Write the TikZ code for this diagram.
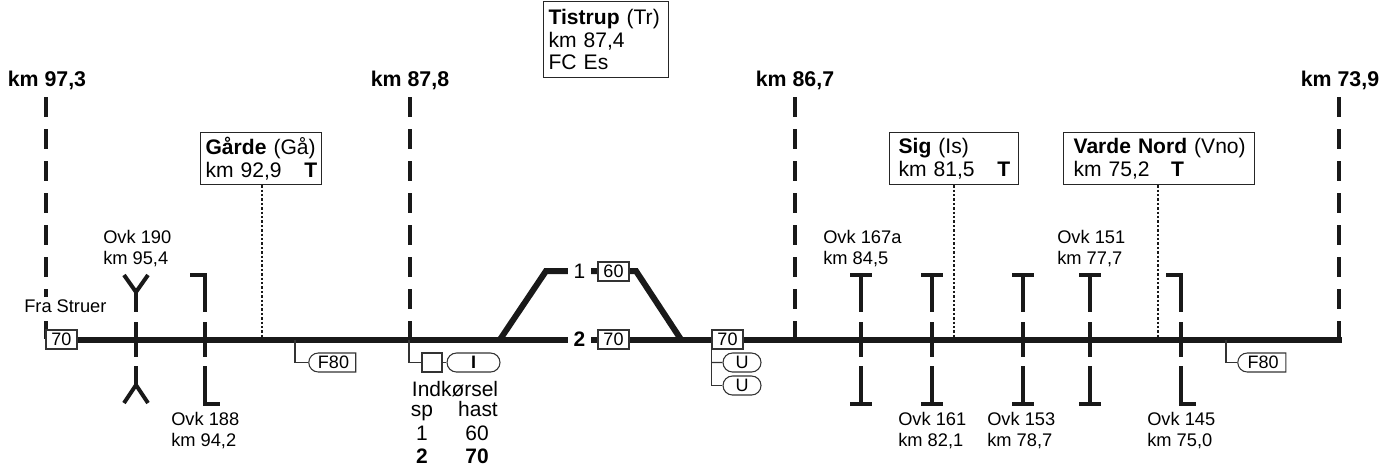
\documentclass[tikz,border=0pt]{standalone}
\usepackage{fontspec}
\setmainfont{Liberation Sans}
\usetikzlibrary{calc,shapes.misc}

\tikzset{
  track/.style={line width=4.5pt,black!90},
  kmline/.style={line width=3pt,black!90,dash pattern=on 15pt off 9pt},
  ovkline/.style={line width=3pt,black!90},
  thinline/.style={line width=0.8pt,black!80},
  stopline/.style={line width=2.1pt,black!90,dash pattern=on 1.8pt off 1.5pt},
  kmlabel/.style={font=\fontsize{16}{18}\selectfont\bfseries,inner sep=0pt},
  ovklabel/.style={font=\fontsize{13.7}{15.8}\selectfont,align=left,anchor=west,inner sep=0pt},
  stationbox/.style={draw=black!85,line width=0.9pt,fill=white,anchor=north west,align=left,
    font=\fontsize{15.8}{16.7}\selectfont,inner xsep=3.75pt,inner ysep=0pt},
  speedbox/.style={draw=black!80,line width=0.8pt,fill=white,inner sep=0pt,
    minimum width=23.25pt,minimum height=14.25pt,font=\fontsize{13.5}{14}\selectfont},
  pillbox/.style={draw=black!80,line width=0.8pt,fill=white,rounded rectangle,inner sep=0pt,
    minimum height=14.25pt,font=\fontsize{13.5}{14}\selectfont},
  tabletext/.style={font=\fontsize{15.7}{17}\selectfont,inner sep=0pt,anchor=base},
  boldtext/.style={font=\fontsize{15.7}{17}\selectfont\bfseries},
  spornumber/.style={inner sep=0pt,fill=white,minimum width=17.25pt,minimum height=14pt,
    font=\fontsize{15.7}{17}\selectfont},
}

\begin{document}
\begin{tikzpicture}[x=0.75pt,y=-0.75pt]
  \useasboundingbox (0,0) rectangle (1391,469);

  % section limits
  \coordinate (ktop1) at (46,97);
  \coordinate (kbot1) at (46,339);
  \coordinate (ktop2) at (410,97);
  \coordinate (kbot2) at (410,339);
  \coordinate (ktop3) at (795,97);
  \coordinate (kbot3) at (795,339);
  \coordinate (ktop4) at (1339,97);
  \coordinate (kbot4) at (1339,339);
  \draw[kmline] (ktop1) -- (kbot1);
  \draw[kmline] (ktop2) -- (kbot2);
  \draw[kmline] (ktop3) -- (kbot3);
  \draw[kmline] (ktop4) -- (kbot4);
  \node[kmlabel] (km1) at (47,80) {km 97,3};
  \node[kmlabel] (km2) at (410,80) {km 87,8};
  \node[kmlabel] (km3) at (795,80) {km 86,7};
  \node[kmlabel] (km4) at (1340,80) {km 73,9};
  \node[ovklabel,fill=white,inner ysep=2pt] (struer) at (24,306) {Fra Struer};

  % tracks
  \coordinate (trackend) at (1342,339.5);
  \coordinate (switchw) at (500,339.5);
  \coordinate (switche) at (681,339.5);
  \draw[track] (46,339.5) -- (trackend);
  \draw[track] (switchw) -- (546,271) -- (636,271) -- (switche);

  % level crossings
  \foreach \xpos in {861,932,1023,1090} {
    \draw[ovkline] (\xpos-11,275) -- (\xpos+11,275);
    \draw[ovkline] (\xpos,275) -- (\xpos,312);
    \draw[ovkline] (\xpos,322) -- (\xpos,357);
    \draw[ovkline] (\xpos,366) -- (\xpos,404);
    \draw[ovkline] (\xpos-11,404) -- (\xpos+11,404);
  }
  \foreach \xpos in {205,1181} {
    \draw[ovkline] (\xpos-15,275) -- (\xpos,275) -- (\xpos,312);
    \draw[ovkline] (\xpos,322) -- (\xpos,357);
    \draw[ovkline] (\xpos,366) -- (\xpos,404) -- (\xpos+15,404);
  }
  \draw[ovkline] (124,275) -- (136,292) -- (148,275);
  \draw[ovkline] (136,292) -- (136,312);
  \draw[ovkline] (136,322) -- (136,357);
  \draw[ovkline] (136,366) -- (136,385);
  \draw[ovkline] (124,403) -- (136,385) -- (148,403);

  \node[ovklabel] (ovk190) at (103,249) {Ovk 190\\km 95,4};
  \node[ovklabel] (ovk188) at (171,431) {Ovk 188\\km 94,2};
  \node[ovklabel] (ovk167) at (823,249) {Ovk 167a\\km 84,5};
  \node[ovklabel] (ovk161) at (898,431) {Ovk 161\\km 82,1};
  \node[ovklabel] (ovk153) at (987,431) {Ovk 153\\km 78,7};
  \node[ovklabel] (ovk151) at (1057,249) {Ovk 151\\km 77,7};
  \node[ovklabel] (ovk145) at (1147,431) {Ovk 145\\km 75,0};

  % stations
  \node[stationbox,text width=83.25pt,minimum height=39pt] (gaarde) at (200,132)
    {\mbox{\textbf{Gårde} (Gå)}\\\mbox{km 92,9\hspace{17pt}\textbf{T}}};
  \node[stationbox,text width=86.25pt,minimum height=57pt] (tistrup) at (543,1)
    {\mbox{\textbf{Tistrup} (Tr)}\\km 87,4\\FC Es};
  \node[stationbox,inner xsep=6.75pt,text width=83.25pt,minimum height=39pt] (sig) at (889,132)
    {\mbox{\textbf{Sig} (Is)}\\\mbox{km 81,5\hspace{17pt}\textbf{T}}};
  \node[stationbox,inner xsep=7.5pt,text width=128pt,minimum height=39pt] (varde) at (1063,132)
    {\mbox{\textbf{Varde Nord} (Vno)}\\\mbox{km 75,2\hspace{16pt}\textbf{T}}};
  \coordinate (gaardestop) at (262,339);
  \coordinate (sigstop) at (954,339);
  \coordinate (vardestop) at (1158,339);
  \draw[stopline] (gaarde.south -| gaardestop) -- (gaardestop);
  \draw[stopline] (sig.south -| sigstop) -- (sigstop);
  \draw[stopline] (varde.south -| vardestop) -- (vardestop);

  % signals and speed boards
  \node[speedbox] (speed70a) at (61.5,339.5) {70};
  \node[speedbox] (speed60) at (613.5,271.5) {60};
  \node[speedbox] (speed70b) at (613.5,339.5) {70};
  \node[speedbox] (speed70c) at (727.5,339.5) {70};
  \node[spornumber] (spor1) at (579.5,271) {1};
  \node[spornumber,font=\fontsize{15.7}{17}\selectfont\bfseries] (spor2) at (579.5,339.5) {2};

  \node[pillbox,rounded rectangle east arc=none,minimum width=35.25pt] (f80a) at (333.5,362.5) {F80};
  \node[pillbox,rounded rectangle east arc=none,minimum width=36pt] (f80b) at (1263,362.5) {F80};
  \coordinate (f80atap) at (295,339.5);
  \coordinate (f80btap) at (1226,339.5);
  \draw[thinline] (f80atap) |- (f80a.west);
  \draw[thinline] (f80btap) |- (f80b.west);

  \node[speedbox,minimum width=15pt] (indsignal) at (432,362.5) {};
  \node[pillbox,minimum width=39.75pt,font=\fontsize{13.5}{14}\selectfont\bfseries] (indpill) at (473.5,362.5) {I};
  \coordinate (indtap) at (409,339.5);
  \draw[thinline] (indtap) |- (indsignal.west);
  \draw[thinline] (indsignal) -- (indpill);

  \node[pillbox,minimum width=28.5pt] (udpill1) at (742,362.5) {U};
  \node[pillbox,minimum width=28.5pt] (udpill2) at (742,385.5) {U};
  \draw[thinline] (speed70c.south west) |- (udpill2.west);
  \draw[thinline] ($(speed70c.south west)!0.36!(speed70c.south west |- udpill2.west)$) -- (udpill1.west);

  % entry table
  \node[tabletext] (indk) at (455,396.5) {Indkørsel};
  \node[tabletext] (sp) at (422,416) {sp};
  \node[tabletext] (hast) at (478,416) {hast};
  \node[tabletext] (sp1) at (422,440) {1};
  \node[tabletext] (hast1) at (477,440) {60};
  \node[tabletext,boldtext] (sp2) at (422,463) {2};
  \node[tabletext,boldtext] (hast2) at (477,463) {70};
\end{tikzpicture}
\end{document}
